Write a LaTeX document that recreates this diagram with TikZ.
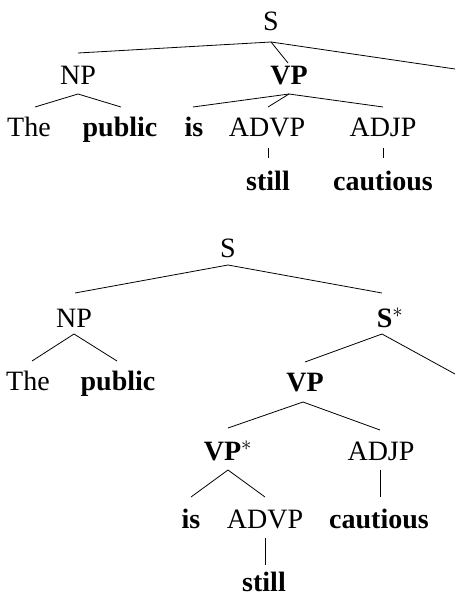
\documentclass[tikz,border=0pt]{standalone}
\usepackage{fontspec}
\setmainfont{Liberation Serif}
\usetikzlibrary{calc}
\begin{document}
\begin{tikzpicture}[x=1pt,y=-1pt,
  lab/.style={font=\fontsize{28}{32}\selectfont, inner sep=0pt, anchor=base},
  edge/.style={line width=0.8pt}]
\useasboundingbox (0,0) rectangle (455,596);
% ---------- top tree ----------
\node[lab] (tS) at (271,31) {S};
\node[lab] (tNP) at (78,85) {NP};
\node[lab] (tVP) at (289,85) {\textbf{VP}};
\node[lab] (tThe) at (29,137) {The};
\node[lab] (tpublic) at (120,137) {\textbf{public}};
\node[lab] (tis) at (194,137) {\textbf{is}};
\node[lab] (tADVP) at (267,137) {ADVP};
\node[lab] (tADJP) at (383,137) {ADJP};
\node[lab] (tstill) at (268,190) {\textbf{still}};
\node[lab] (tcautious) at (383,190) {\textbf{cautious}};
\coordinate (tedge) at (455,69);
\draw[edge] ($(tS.base)+(0,11)$) -- ($(tNP.base)+(0,-32)$);
\draw[edge] ($(tS.base)+(0,11)$) -- ($(tVP.base)+(-1,-22)$);
\draw[edge] ($(tS.base)+(0,11)$) -- (tedge);
\draw[edge] ($(tNP.base)+(0,9)$) -- ($(tThe.base)+(6,-30)$);
\draw[edge] ($(tNP.base)+(0,9)$) -- ($(tpublic.base)+(1,-30)$);
\draw[edge] ($(tVP.base)+(0,9)$) -- ($(tis.base)+(-1,-30)$);
\draw[edge] ($(tVP.base)+(0,9)$) -- ($(tADVP.base)+(1,-30)$);
\draw[edge] ($(tVP.base)+(0,9)$) -- ($(tADJP.base)+(0,-30)$);
\draw[edge] ($(tADVP.base)+(1,11)$) -- ($(tstill.base)+(0,-32)$);
\draw[edge] ($(tADJP.base)+(0,11)$) -- ($(tcautious.base)+(0,-32)$);
% ---------- bottom tree ----------
\node[lab] (bS) at (228,257) {S};
\node[lab] (bNP) at (74,327) {NP};
\node[lab] (bSs) at (390,327) {\textbf{S}$^{*}$};
\node[lab] (bThe) at (28,390) {The};
\node[lab] (bpublic) at (118,390) {\textbf{public}};
\node[lab] (bVP) at (305,391) {\textbf{VP}};
\node[lab] (bVPs) at (228,460) {\textbf{VP}$^{*}$};
\node[lab] (bADJP) at (381,460) {ADJP};
\node[lab] (bis) at (191,528) {\textbf{is}};
\node[lab] (bADVP) at (265,528) {ADVP};
\node[lab] (bcautious) at (379,528) {\textbf{cautious}};
\node[lab] (bstill) at (264,591) {\textbf{still}};
\coordinate (bedge) at (455,374);
\draw[edge] ($(bS.base)+(0,8)$) -- ($(bNP.base)+(1,-34)$);
\draw[edge] ($(bS.base)+(0,8)$) -- ($(bSs.base)+(-8,-34)$);
\draw[edge] ($(bNP.base)+(0,7)$) -- ($(bThe.base)+(4,-29)$);
\draw[edge] ($(bNP.base)+(0,7)$) -- ($(bpublic.base)+(-1,-29)$);
\draw[edge] ($(bSs.base)+(-8,7)$) -- ($(bVP.base)+(0,-29)$);
\draw[edge] ($(bSs.base)+(-8,7)$) -- (bedge);
\draw[edge] ($(bVP.base)+(-2,11)$) -- ($(bVPs.base)+(0,-32)$);
\draw[edge] ($(bVP.base)+(-2,11)$) -- ($(bADJP.base)+(-1,-30)$);
\draw[edge] ($(bVPs.base)+(0,10)$) -- ($(bis.base)+(0,-31)$);
\draw[edge] ($(bVPs.base)+(0,10)$) -- ($(bADVP.base)+(0,-31)$);
\draw[edge] ($(bADJP.base)+(-1,10)$) -- ($(bcautious.base)+(1,-31)$);
\draw[edge] ($(bADVP.base)+(0,10)$) -- ($(bstill.base)+(1,-26)$);
\end{tikzpicture}
\end{document}
